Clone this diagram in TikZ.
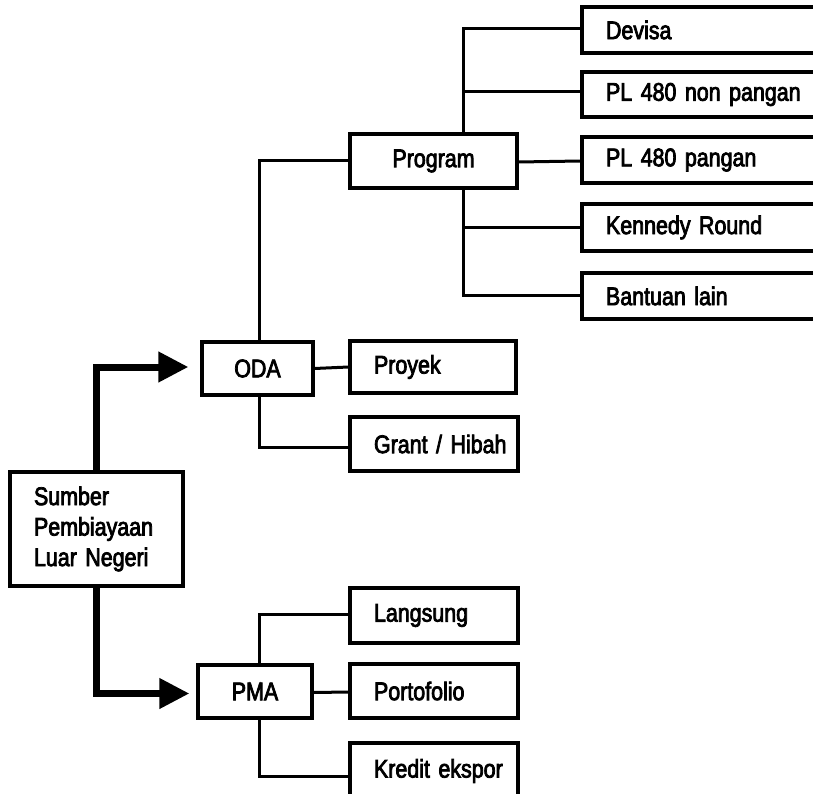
\documentclass[tikz,border=0pt]{standalone}
\usepackage{fontspec}
\setmainfont{Liberation Sans}[FakeStretch=0.84,FakeBold=3,WordSpace=0.85]
\usetikzlibrary{arrows.meta}
\begin{document}
\begin{tikzpicture}[x=1pt,y=-1pt,
  font=\fontsize{25.5}{30.5}\selectfont,
  lbox/.style args={#1/#2}{draw,line width=3.2pt,inner xsep=24pt,inner ysep=0pt,text width=#1-48pt,minimum height=#2,align=left,anchor=center},
  cbox/.style args={#1/#2}{draw,line width=3.2pt,inner sep=0pt,minimum width=#1,minimum height=#2,align=center,anchor=center},
  link/.style={line width=3pt},
  bigarrow/.style={line width=7pt,-{Triangle[length=30pt,width=29pt]}}
]
\useasboundingbox (0,0) rectangle (813,794);
\clip (0,0) rectangle (813,794);
% main nodes
\node[lbox=173pt/114pt] (src) at (96.5,529) {Sumber\\Pembiayaan\\Luar Negeri};
\node[cbox=111pt/53pt] (oda) at (257.5,368.5) {ODA};
\node[cbox=114pt/53pt] (pma) at (255,691.5) {PMA};
\node[cbox=167pt/54pt] (prog) at (433.5,161) {Program};
\node[lbox=166pt/52pt] (proyek) at (433,367) {\mbox{Proyek}};
\node[lbox=168pt/54pt] (grant) at (434,444) {\mbox{Grant / Hibah}};
\node[lbox=168pt/55pt] (lang) at (434,615.5) {\mbox{Langsung}};
\node[lbox=168pt/54pt] (porto) at (434,691) {\mbox{Portofolio}};
\node[lbox=168pt/56pt] (kredit) at (434,771) {\mbox{Kredit ekspor}};
% program leaves
\node[lbox=250pt/46pt] (devisa) at (707,30) {\mbox{Devisa}};
\node[lbox=250pt/45pt] (plnon) at (707,94.5) {\mbox{PL 480 non pangan}};
\node[lbox=250pt/46pt] (plp) at (707,160) {\mbox{PL 480 pangan}};
\node[lbox=250pt/47pt] (kennedy) at (707,227.5) {\mbox{Kennedy Round}};
\node[lbox=250pt/46pt] (bantuan) at (707,296) {\mbox{Bantuan lain}};
% thick arrows
\draw[bigarrow,shorten >=12pt] (src.north) |- ([yshift=1.5pt]oda.west);
\draw[bigarrow,shorten >=7pt] (src.south) |- ([yshift=-2pt]pma.west);
% ODA links
\draw[link] ([xshift=1.5pt]oda.north) |- (prog.west);
\draw[link] (oda.east) -- (proyek.west);
\draw[link] ([xshift=1.5pt]oda.south) |- ([yshift=-3pt]grant.west);
% Program links
\draw[link] ([yshift=-1pt]prog.east) -- ([yshift=-1pt]plp.west);
\draw[link] ([xshift=29.5pt]prog.north) |- ([yshift=1pt]devisa.west);
\draw[link] ([xshift=29.5pt]prog.north) |- ([yshift=2.5pt]plnon.west);
\draw[link] ([xshift=29.5pt]prog.south) |- (kennedy.west);
\draw[link] ([xshift=29.5pt]prog.south) |- ([yshift=1pt]bantuan.west);
% PMA links
\draw[link] ([xshift=4pt]pma.north) |- ([yshift=1.5pt]lang.west);
\draw[link] ([yshift=-1pt]pma.east) -- ([yshift=-1pt]porto.west);
\draw[link] ([xshift=4pt]pma.south) |- ([yshift=-5pt]kredit.west);
\end{tikzpicture}
\end{document}
